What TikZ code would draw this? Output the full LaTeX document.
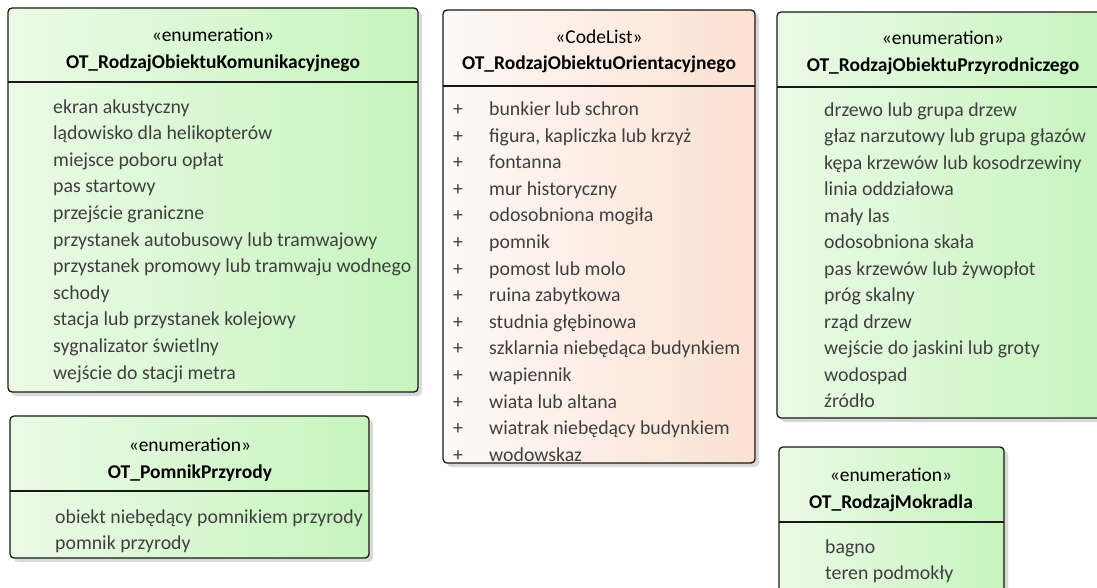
\documentclass[tikz,border=0pt]{standalone}
\usepackage{fontspec}
\setmainfont{Carlito}
\usetikzlibrary{positioning}

\definecolor{enumleft}{HTML}{EBFAE6}
\definecolor{enumright}{HTML}{C6F4BE}
\definecolor{codeleft}{HTML}{FDF9F6}
\definecolor{coderight}{HTML}{FBE1D2}
\definecolor{shadowgrey}{HTML}{D9D9D9}
\definecolor{itemtext}{HTML}{3F3F3F}

\tikzset{
  classbox/.style={draw=black!90, line width=1.3pt, rounded corners=4pt},
  enumfill/.style={left color=enumleft, right color=enumright},
  codefill/.style={left color=codeleft, right color=coderight},
  boxshadow/.style={fill=shadowgrey, rounded corners=4pt},
  divider/.style={draw=black!90, line width=1.3pt},
  stereo/.style={anchor=base, inner sep=0pt, font=\fontsize{19.5}{23}\selectfont},
  classname/.style={anchor=base, inner sep=0pt, font=\bfseries\fontsize{19.5}{23}\selectfont},
  item/.style={anchor=base west, inner sep=0pt, text=itemtext, font=\fontsize{19.8}{23}\selectfont},
  plus/.style={anchor=base, inner sep=0pt, text=itemtext, font=\fontsize{19.8}{23}\selectfont},
}

\begin{document}
\begin{tikzpicture}[x=1pt,y=-1pt]
  \useasboundingbox (0,0) rectangle (1097,587);
  \clip (0,0) rectangle (1097,587);

  % OT_RodzajObiektuKomunikacyjnego
  \fill[boxshadow] (12,12) rectangle (422,396);
  \draw[classbox, enumfill] (8,8) rectangle (418,392);
  \draw[divider] (8,82) -- (418,82);
  \node[stereo] (komStereo) at (213,41) {«enumeration»};
  \node[classname] (komName) at (213,68) {OT\_RodzajObiektuKomunikacyjnego};
  \foreach \val [count=\i] in {ekran akustyczny, lądowisko dla helikopterów,
      miejsce poboru opłat, pas startowy, przejście graniczne,
      przystanek autobusowy lub tramwajowy,
      przystanek promowy lub tramwaju wodnego, schody,
      stacja lub przystanek kolejowy, sygnalizator świetlny,
      wejście do stacji metra}
    \node[item] (kom\i) at (53,{113+26.6*(\i-1)}) {\val};

  % OT_RodzajObiektuOrientacyjnego
  \fill[boxshadow] (447,14) rectangle (759,467);
  \begin{scope}
    \clip[rounded corners=4pt] (443,10) rectangle (755,463);
    \fill[codefill] (443,10) rectangle (755,463);
    \foreach \val [count=\i] in {bunkier lub schron,
        {figura, kapliczka lub krzyż}, fontanna, mur historyczny,
        odosobniona mogiła, pomnik, pomost lub molo, ruina zabytkowa,
        studnia głębinowa, szklarnia niebędąca budynkiem, wapiennik,
        wiata lub altana, wiatrak niebędący budynkiem, wodowskaz} {
      \node[plus] (ornPlus\i) at (458,{115.5+26.6*(\i-1)}) {+};
      \node[item] (orn\i) at (489,{115.5+26.6*(\i-1)}) {\val};
    }
  \end{scope}
  \draw[classbox] (443,10) rectangle (755,463);
  \draw[divider] (443,86) -- (755,86);
  \node[stereo] (ornStereo) at (599,43) {«CodeList»};
  \node[classname] (ornName) at (599,69) {OT\_RodzajObiektuOrientacyjnego};

  % OT_RodzajObiektuPrzyrodniczego
  \fill[boxshadow] (781,16) rectangle (1113,422);
  \draw[classbox, enumfill] (777,12) rectangle (1109,418);
  \draw[divider] (777,87) -- (1109,87);
  \node[stereo] (przStereo) at (943,44) {«enumeration»};
  \node[classname] (przName) at (943,71) {OT\_RodzajObiektuPrzyrodniczego};
  \foreach \val [count=\i] in {drzewo lub grupa drzew,
      głaz narzutowy lub grupa głazów, kępa krzewów lub kosodrzewiny,
      linia oddziałowa, mały las, odosobniona skała,
      pas krzewów lub żywopłot, próg skalny, rząd drzew,
      wejście do jaskini lub groty, wodospad, źródło}
    \node[item] (prz\i) at (824,{116+26.5*(\i-1)}) {\val};

  % OT_PomnikPrzyrody
  \fill[boxshadow] (14,420) rectangle (373,562);
  \draw[classbox, enumfill] (10,416) rectangle (369,558);
  \draw[divider] (10,491) -- (369,491);
  \node[stereo] (pomStereo) at (190,451) {«enumeration»};
  \node[classname] (pomName) at (190,478) {OT\_PomnikPrzyrody};
  \node[item] (pom1) at (55,523) {obiekt niebędący pomnikiem przyrody};
  \node[item] (pom2) at (55,549) {pomnik przyrody};

  % OT_RodzajMokradla
  \fill[boxshadow] (783,451) rectangle (1008,604);
  \draw[classbox, enumfill] (779,447) rectangle (1004,600);
  \draw[divider] (779,522) -- (1004,522);
  \node[stereo] (mokStereo) at (891,481) {«enumeration»};
  \node[classname] (mokName) at (891,508) {OT\_RodzajMokradla};
  \node[item] (mok1) at (825,553) {bagno};
  \node[item] (mok2) at (825,579) {teren podmokły};
\end{tikzpicture}
\end{document}
